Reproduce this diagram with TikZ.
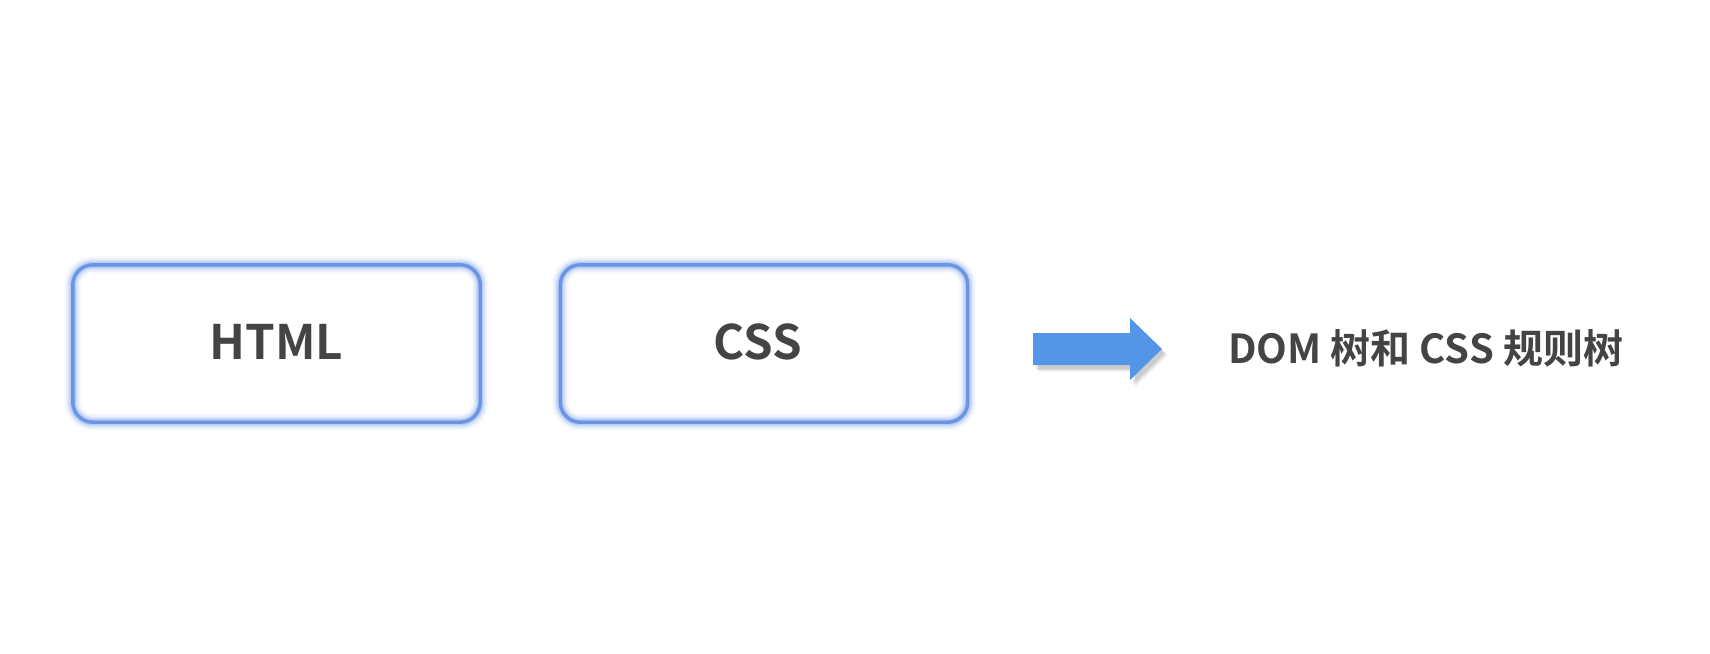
\documentclass[tikz,border=0pt]{standalone}
\usepackage{fontspec}
\setmainfont{Noto Sans CJK SC}[BoldFont={* Bold}]
\usetikzlibrary{calc}
\definecolor{boxblue}{HTML}{6A94E4}
\definecolor{glowblue}{HTML}{9DB9F0}
\definecolor{arrowblue}{HTML}{5595E8}
\definecolor{txt}{HTML}{444444}
\tikzset{
  x=1pt,y=-1pt,
  glowbox/.style={minimum width=407pt,minimum height=157pt,inner sep=0pt},
  boxlabel/.style={anchor=base,inner sep=0pt,font=\fontsize{47.5}{50}\selectfont\bfseries,text=txt},
}
\newcommand{\glowrect}[1]{%
  \foreach \w/\o in {17/0.07,14/0.10,11/0.16,8.5/0.28,6/0.45}{
    \draw[glowblue,line width=\w pt,opacity=\o,rounded corners=20pt] (#1.north west) rectangle (#1.south east);}
  \draw[boxblue,line width=3.4pt,rounded corners=20pt] (#1.north west) rectangle (#1.south east);
}
\begin{document}
\begin{tikzpicture}
\fill[white] (0,0) rectangle (1710,653);
\useasboundingbox (0,0) rectangle (1710,653);
\node[glowbox] (html) at (276.5,343.5) {};
\node[glowbox] (css) at (764,343.5) {};
\glowrect{html}
\glowrect{css}
\node[boxlabel] (htmlt) at (276.5,359) {HTML};
\node[boxlabel] (csst) at (758,359) {CSS};
% arrow with soft shadow
\foreach \dx/\dy/\o in {6/7/0.03,5/6/0.05,4/5/0.06,3/4/0.07}{
  \fill[black,opacity=\o] (1033+\dx,333+\dy) -- (1130+\dx,333+\dy) -- (1130+\dx,318+\dy) -- (1162+\dx,349+\dy)
    -- (1130+\dx,380+\dy) -- (1130+\dx,365+\dy) -- (1033+\dx,365+\dy) -- cycle;}
\fill[arrowblue] (1033,333) coordinate (arr) -- (1130,333) -- (1130,318) -- (1162,349) -- (1130,380) -- (1130,365) -- (1033,365) -- cycle;
\node[anchor=base west,inner sep=0pt,font=\fontsize{40}{44}\selectfont\bfseries,text=txt] (res) at (1228,363) {DOM 树和 CSS 规则树};
\end{tikzpicture}
\end{document}
